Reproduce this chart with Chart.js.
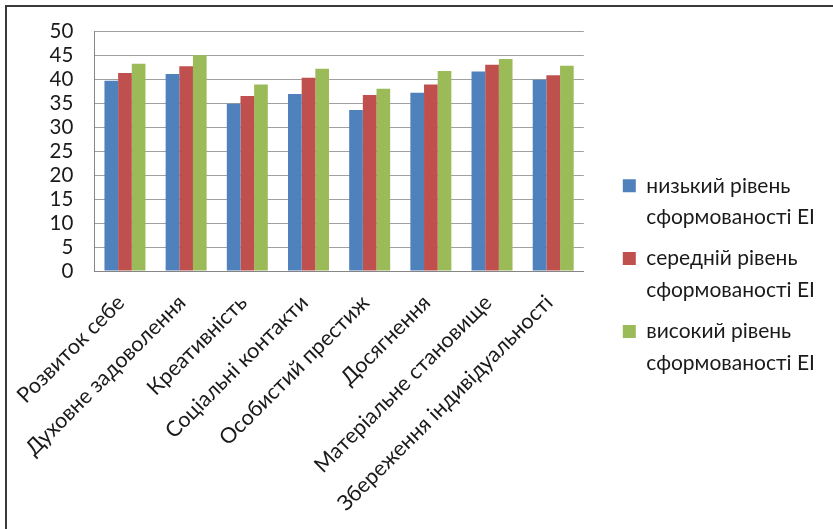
<!DOCTYPE html>
<html>
<head>
<meta charset="utf-8">
<script src="https://cdn.jsdelivr.net/npm/chart.js@4/dist/chart.umd.min.js"></script>
<style>
  html, body { margin: 0; padding: 0; background: #fff; }
  #wrap { position: relative; width: 833px; height: 529px; overflow: hidden; }
  #frame { position: absolute; left: 5px; top: 5px; width: 900px; height: 600px;
           border-left: 2px solid #3a3a3a; border-top: 2px solid #3a3a3a; pointer-events: none; }
</style>
</head>
<body>
<div id="wrap">
  <canvas id="c" width="833" height="529"></canvas>
  <div id="frame"></div>
</div>
<script>
const categories = ['Розвиток себе', 'Духовне задоволення', 'Креативність', 'Соціальні контакти',
  'Особистий престиж', 'Досягнення', 'Матеріальне становище', 'Збереження індивідуальності'];
const lowLevel  = [39.7, 41.1, 34.9, 36.9, 33.6, 37.2, 41.6, 39.9];
const midLevel  = [41.3, 42.7, 36.5, 40.3, 36.7, 38.9, 43.0, 40.8];
const highLevel = [43.2, 45.0, 38.9, 42.2, 38.0, 41.7, 44.2, 42.8];
const seriesNames = ['низький рівень сформованості ЕІ', 'середній рівень сформованості ЕІ', 'високий рівень сформованості ЕІ'];
const legendLines = [['низький рівень', 'сформованості ЕІ'], ['середній рівень', 'сформованості ЕІ'], ['високий рівень', 'сформованості ЕІ']];
const yTicks = { min: 0, max: 50, step: 5 };

const colors = ['#4F81BD', '#C0504D', '#9BBB59'];
const FONT = 'Lato, "Open Sans", sans-serif';

new Chart(document.getElementById('c'), {
  type: 'bar',
  data: {
    labels: categories,
    datasets: [lowLevel, midLevel, highLevel].map((d, i) => ({
      label: seriesNames[i],
      data: d,
      backgroundColor: colors[i],
      borderWidth: 0,
      categoryPercentage: 0.67,
      barPercentage: 1.0
    }))
  },
  options: {
    responsive: false,
    animation: false,
    layout: { padding: { top: 31, right: 8, bottom: 0, left: 0 } },
    plugins: {
      tooltip: { enabled: false },
      legend: {
        position: 'right',
        align: 'center',
        maxWidth: 260,
        labels: {
          boxWidth: 13,
          boxHeight: 13,
          padding: 9,
          color: '#1a1a1a',
          font: { family: FONT, size: 21, lineHeight: 1.52 },
          generateLabels(chart) {
            const items = Chart.defaults.plugins.legend.labels.generateLabels(chart);
            items.forEach((it, i) => { it.text = legendLines[i]; it.lineWidth = 0; });
            return items;
          }
        }
      }
    },
    scales: {
      x: {
        grid: { display: false, drawTicks: false },
        border: { display: true, color: '#868686', width: 1 },
        ticks: {
          color: '#1a1a1a',
          font: { family: FONT, size: 21.5 },
          maxRotation: 45, minRotation: 45,
          padding: 19,
          labelOffset: -4,
          autoSkip: false
        },
        afterFit(s) { s.height = 258; }
      },
      y: {
        min: yTicks.min, max: yTicks.max,
        grid: { color: '#a0a0a0', drawTicks: false, lineWidth: 1 },
        border: { display: true, color: '#868686', width: 1 },
        ticks: {
          stepSize: yTicks.step,
          autoSkip: false,
          color: '#1a1a1a',
          font: { family: FONT, size: 20.5, lineHeight: 1 },
          padding: 21
        },
        afterFit(s) { s.width = 93; }
      },
      spacer: {
        position: 'right',
        display: true,
        grid: { display: false, drawTicks: false },
        border: { display: false },
        ticks: { display: false },
        afterFit(s) { s.width = 30; }
      }
    }
  }
});
</script>
</body>
</html>
